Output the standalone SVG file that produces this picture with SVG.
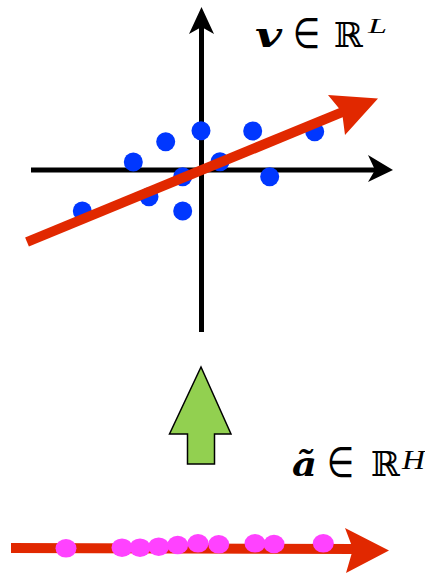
<svg xmlns="http://www.w3.org/2000/svg" width="425" height="573" viewBox="0 0 425 573">
<style>
.ax{stroke:#000;stroke-width:5;fill:none}
.axh{fill:#000}
.red{stroke:#e12800;stroke-width:10;fill:none}
.redh{fill:#e12800}
.blue{fill:#0037ff}
.pink{fill:#ff42ff}
.m{font-family:"DejaVu Serif",serif;font-size:34px;fill:#000}
.el{font-family:"DejaVu Sans",sans-serif;font-size:42px;fill:#000}
.bi{font-family:"DejaVu Serif",serif;font-size:34px;font-weight:bold;font-style:italic;fill:#000}
.sup{font-family:"Liberation Serif",serif;font-style:italic;fill:#000}
</style>
<rect width="425" height="573" fill="#fff"/>
<g id="axes">
  <line class="ax" x1="201.5" y1="332" x2="201.5" y2="20"/>
  <polygon class="axh" points="201.5,7 214,34 201.5,27 189,34"/>
  <line class="ax" x1="31" y1="170" x2="382" y2="170"/>
  <polygon class="axh" points="393,170 368,155 375,170 368,182"/>
</g>
<g id="points-L">
  <circle class="blue" cx="82.3" cy="211" r="9.5"/>
  <circle class="blue" cx="133.3" cy="162" r="9.5"/>
  <circle class="blue" cx="165.7" cy="141.7" r="9.5"/>
  <circle class="blue" cx="201" cy="130.7" r="9.5"/>
  <circle class="blue" cx="252.7" cy="131" r="9.5"/>
  <circle class="blue" cx="314.7" cy="131.7" r="9.5"/>
  <circle class="blue" cx="220" cy="161.7" r="9.5"/>
  <circle class="blue" cx="182.7" cy="176.7" r="9.5"/>
  <circle class="blue" cx="149" cy="196.7" r="9.5"/>
  <circle class="blue" cx="182.7" cy="211" r="9.5"/>
  <circle class="blue" cx="269.7" cy="176.7" r="9.5"/>
</g>
<g id="direction-L">
  <line class="red" x1="27" y1="242" x2="345" y2="111"/>
  <polygon class="redh" points="378,98.5 345,135 342,112 328,95"/>
</g>
<g id="label-L">
  <text class="bi" x="255" y="47" textLength="27" lengthAdjust="spacingAndGlyphs">v</text>
  <text class="el" x="293" y="48" textLength="27" lengthAdjust="spacingAndGlyphs">∈</text>
  <text class="m" x="334" y="47" font-size="36" textLength="29" lengthAdjust="spacingAndGlyphs">ℝ</text>
  <text class="sup" x="368" y="33" font-size="21" textLength="19" lengthAdjust="spacingAndGlyphs">L</text>
</g>
<g id="lift-arrow">
  <polygon points="201,367 231,434 214.5,434 214.5,464 187.5,464 187.5,434 169.5,434" fill="#92d050" stroke="#000" stroke-width="1.5" stroke-linejoin="miter"/>
</g>
<g id="label-H">
  <text class="bi" x="292" y="476" font-size="36" textLength="25" lengthAdjust="spacingAndGlyphs">ã</text>
  <text class="el" x="327" y="477" textLength="27" lengthAdjust="spacingAndGlyphs">∈</text>
  <text class="m" x="371" y="476" font-size="36" textLength="29" lengthAdjust="spacingAndGlyphs">ℝ</text>
  <text class="sup" x="402" y="469" font-size="27" textLength="23" lengthAdjust="spacingAndGlyphs">H</text>
</g>
<g id="direction-H">
  <line class="red" x1="11" y1="548" x2="355" y2="549"/>
  <polygon class="redh" points="389,550.5 346,573 353,549 345,528"/>
</g>
<g id="points-H">
  <ellipse class="pink" cx="66" cy="548.3" rx="10.5" ry="9.3"/>
  <ellipse class="pink" cx="122" cy="547.7" rx="10.5" ry="9.3"/>
  <ellipse class="pink" cx="140" cy="547.7" rx="10.5" ry="9.3"/>
  <ellipse class="pink" cx="158.7" cy="546.7" rx="10.5" ry="9.3"/>
  <ellipse class="pink" cx="177.7" cy="545" rx="10.5" ry="9.3"/>
  <ellipse class="pink" cx="198" cy="543.3" rx="10.5" ry="9.3"/>
  <ellipse class="pink" cx="218.7" cy="544.3" rx="10.5" ry="9.3"/>
  <ellipse class="pink" cx="255" cy="543.3" rx="10.5" ry="9.3"/>
  <ellipse class="pink" cx="274" cy="544" rx="10.5" ry="9.3"/>
  <ellipse class="pink" cx="323.3" cy="543.3" rx="10.5" ry="9.3"/>
</g>
</svg>
